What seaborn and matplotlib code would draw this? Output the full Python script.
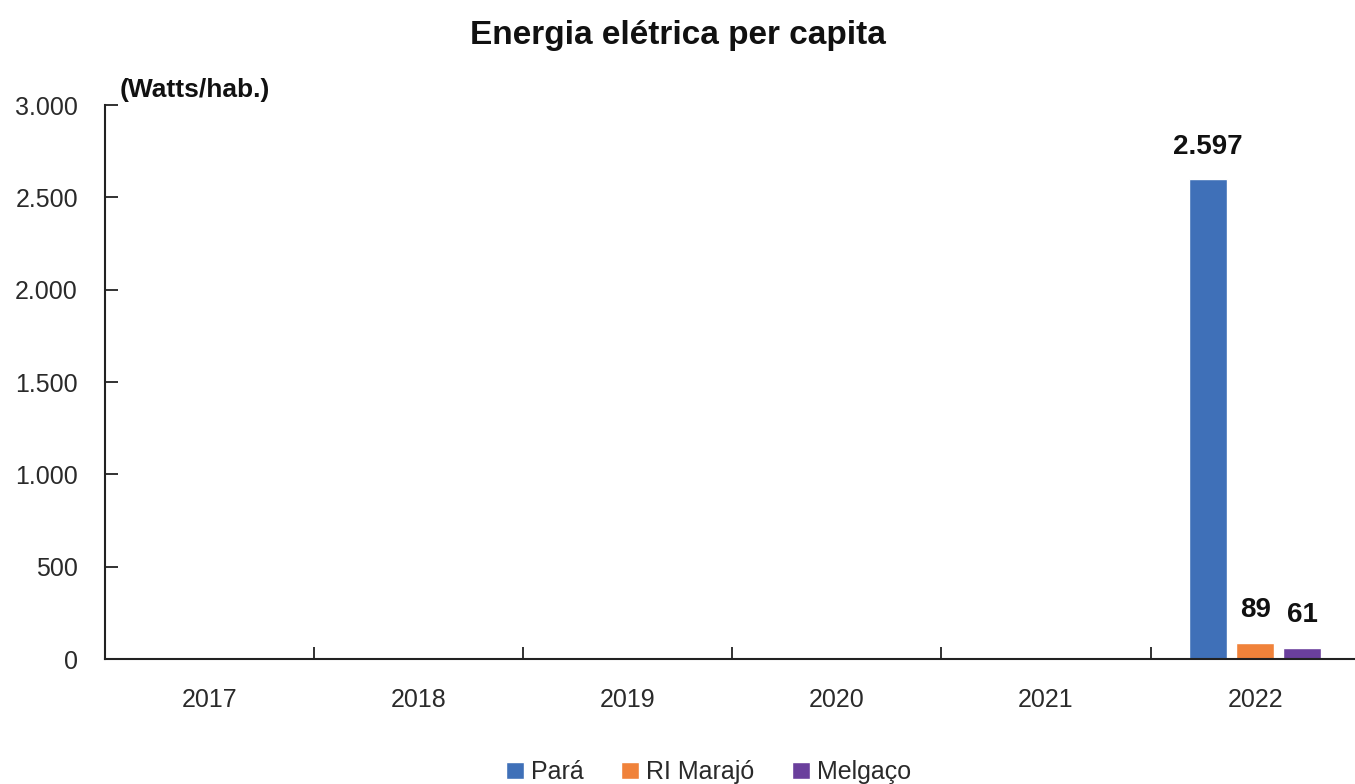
import numpy as np
import pandas as pd
import seaborn as sns
import matplotlib.pyplot as plt
from matplotlib.ticker import FuncFormatter

# Data
years = ['2017', '2018', '2019', '2020', '2021', '2022']
para = [np.nan, np.nan, np.nan, np.nan, np.nan, 2597]
ri_marajo = [np.nan, np.nan, np.nan, np.nan, np.nan, 89]
melgaco = [np.nan, np.nan, np.nan, np.nan, np.nan, 61]
series_names = ['Pará', 'RI Marajó', 'Melgaço']
colors = ['#3F70B8', '#F0823A', '#6A3F9C']

df = pd.DataFrame({
    'ano': years * 3,
    'serie': [s for s in series_names for _ in years],
    'valor': para + ri_marajo + melgaco,
})

sns.set_style('white')
plt.rcParams['font.family'] = ['Liberation Sans Narrow', 'Liberation Sans', 'DejaVu Sans']

fig = plt.figure(figsize=(13.55, 7.84), dpi=100)
ax = fig.add_axes([0.0775, 0.1594, 0.926, 0.7066])

sns.barplot(data=df, x='ano', y='valor', hue='serie', order=years,
            hue_order=series_names, palette=colors, width=0.675, gap=0.2,
            errorbar=None, ax=ax, legend=True, saturation=1)

def fmt(v):
    return f'{v:,.0f}'.replace(',', '.')

for cont in ax.containers:
    labels = ['' if np.isnan(b.get_height()) else fmt(b.get_height()) for b in cont]
    ax.bar_label(cont, labels=labels, padding=14, fontsize=20, fontweight='bold',
                 color='#111111')

ax.set_ylim(0, 3000)
ax.set_xlim(-0.5, 5.5)
ax.set_yticks([0, 500, 1000, 1500, 2000, 2500, 3000])
ax.yaxis.set_major_formatter(FuncFormatter(lambda v, p: fmt(v)))
ax.set_xlabel('')
ax.set_ylabel('')

for side in ['top', 'right']:
    ax.spines[side].set_visible(False)
for side in ['left', 'bottom']:
    ax.spines[side].set_color('#222222')
    ax.spines[side].set_linewidth(1.5)

ax.tick_params(axis='y', left=True, direction='in', length=9, width=1.3,
               color='#222222', labelsize=18, labelcolor='#2a2a2a', pad=19.5)
ax.tick_params(axis='x', which='major', bottom=False, labelsize=18,
               labelcolor='#2a2a2a', pad=17)
ax.set_xticks(np.arange(0.5, 5.5, 1), minor=True)
ax.tick_params(axis='x', which='minor', bottom=True, direction='in', length=9,
               width=1.3, color='#222222')

fig.text(0.5, 0.955, 'Energia elétrica per capita', ha='center', va='center',
         fontsize=24, fontweight='bold', color='#111111')
fig.text(0.088, 0.885, '(Watts/hab.)', ha='left', va='center',
         fontsize=19, fontweight='bold', color='#111111')

ax.legend_.remove()
handles, labels = ax.get_legend_handles_labels()
fig.legend(handles, labels, loc='center', bbox_to_anchor=(0.523, 0.015),
           ncol=3, frameon=False, fontsize=18, handlelength=0.7,
           handleheight=0.7, handletextpad=0.3, columnspacing=1.5,
           labelcolor='#2a2a2a')

fig.savefig('out.png', dpi=100)
